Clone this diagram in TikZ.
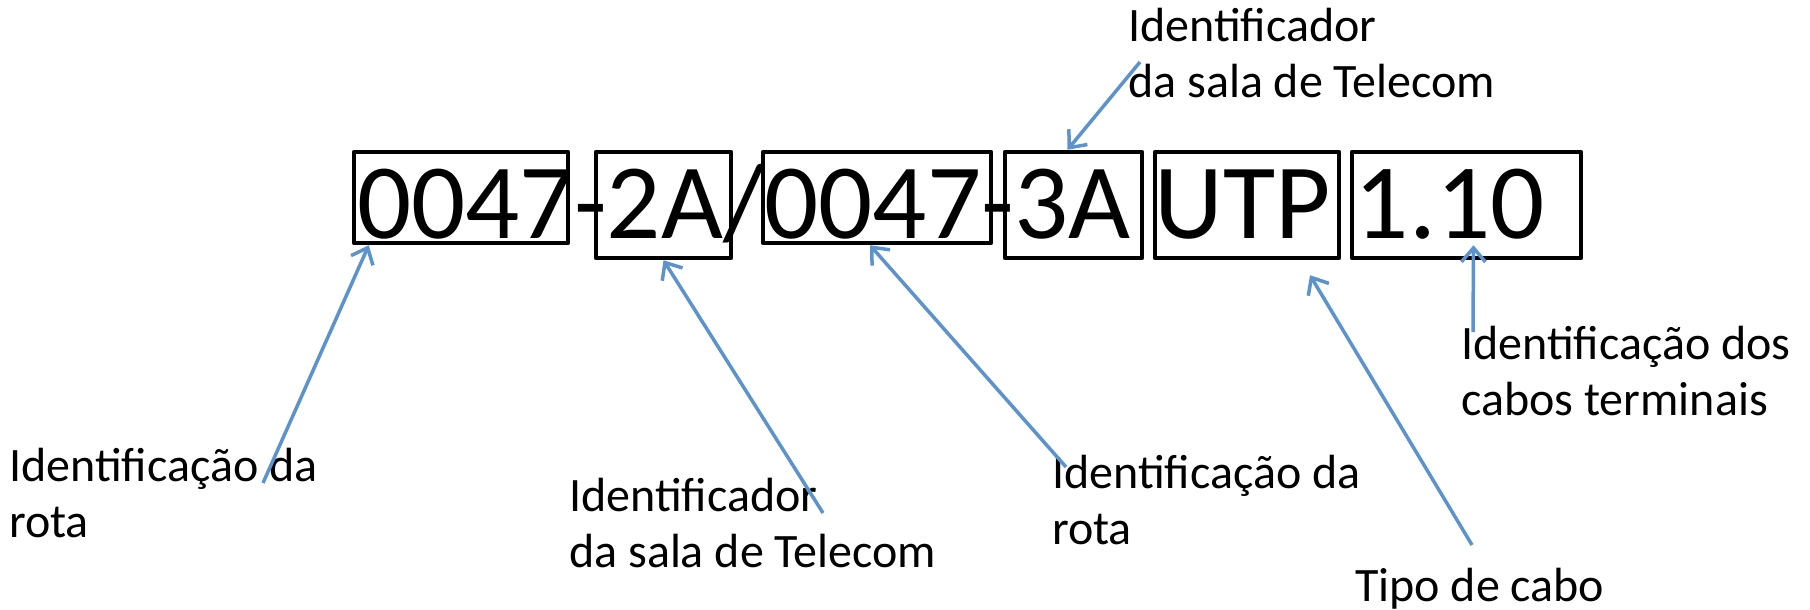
\documentclass[tikz,border=0pt]{standalone}
\usepackage{fontspec}
\setmainfont{Carlito}
\usetikzlibrary{arrows.meta}
\definecolor{arrowblue}{RGB}{93,147,205}

\begin{document}
\begin{tikzpicture}[x=1pt, y=-1pt,
  box/.style={draw, line width=4.5pt, line join=round, inner sep=0pt, minimum height=106pt},
  shortbox/.style={box, minimum height=91pt},
  lbl/.style={anchor=north west, align=left, inner sep=0pt, font=\fontsize{48}{56}\selectfont},
  pointer/.style={draw=arrowblue, line width=3.5pt, -{Straight Barb[length=14pt,width=24pt]}}]
\useasboundingbox (0, 0) rectangle (1810, 610);
\node[anchor=base west, inner sep=0pt, font=\fontsize{107}{128}\selectfont] (code) at (357, 238) {0047-2A/0047-3A UTP 1.10};
\node[shortbox, minimum width=214pt] (b1) at (461, 197.5) {};
\node[box, minimum width=135pt] (b2) at (663.5, 205) {};
\node[shortbox, minimum width=228pt] (b3) at (877, 197.5) {};
\node[box, minimum width=137pt] (b4) at (1073.5, 205) {};
\node[box, minimum width=184pt] (b5) at (1247, 205) {};
\node[box, minimum width=229pt] (b6) at (1466.5, 205) {};
\node[lbl] (rota1) at (9, 447.5) {Identificação da\\rota};
\node[lbl] (sala1) at (569, 477.5) {Identificador\\da sala de Telecom};
\node[lbl] (rota2) at (1052, 454.5) {Identificação da\\rota};
\node[lbl] (sala2) at (1128, 7.5) {Identificador\\da sala de Telecom};
\node[lbl] (term) at (1461, 325.5) {Identificação dos\\cabos terminais};
\node[lbl] (tipo) at (1355, 567.5) {Tipo de cabo};
\coordinate (c1) at (263, 483);
\coordinate (c2) at (823, 513);
\coordinate (c3) at (1066, 467);
\coordinate (c4) at (1140, 62);
\coordinate (c5) at (1472, 545);
\coordinate (c6) at (1473, 332);
\draw[pointer] (c1) -- ([xshift=17pt]b1.south west);
\draw[pointer] (c2) -- (b2.south);
\draw[pointer] (c3) -- ([xshift=-7pt]b3.south);
\draw[pointer] (c4) -- ([xshift=-6pt]b4.north);
\draw[pointer] (c5) -- ([xshift=63pt, yshift=-15pt]b5.south);
\draw[pointer] (c6) -- ([xshift=7pt, yshift=15pt]b6.south);
\end{tikzpicture}
\end{document}
